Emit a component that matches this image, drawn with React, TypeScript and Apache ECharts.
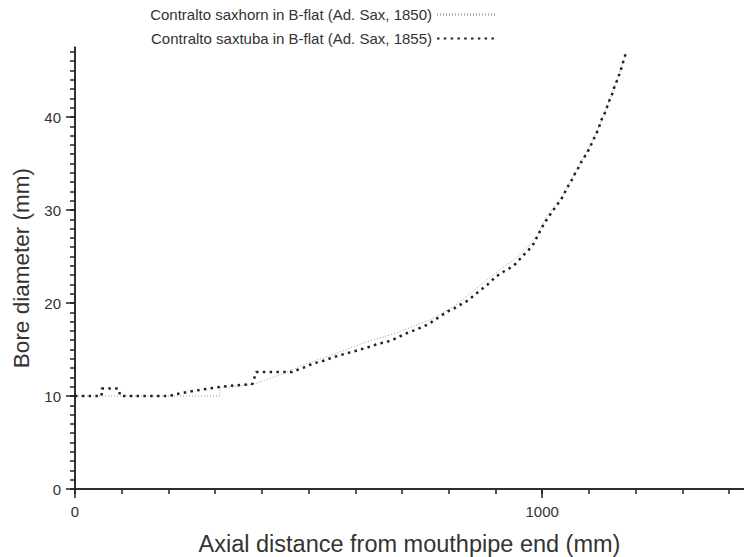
import React, { useEffect, useRef } from "react";
import * as echarts from "echarts";

const seriesNames = [
  "Contralto saxhorn in B-flat (Ad. Sax, 1850)",
  "Contralto saxtuba in B-flat (Ad. Sax, 1855)",
];

// [axial distance (mm), bore diameter (mm)]
const saxhornPoints: [number, number][] = [
  [0, 10], [310, 10], [311, 10.9], [340, 11.0], [385, 11.3], [440, 12.3], [496, 13.5],
  [560, 14.6], [617, 15.7], [689, 16.8], [760, 18.2], [803, 19.4], [824, 20.1],
  [867, 21.9], [910, 23.6], [946, 24.9], [974, 26.3], [992, 27.5], [1010, 29.4],
  [1024, 30.2], [1045, 31.6], [1069, 33.9], [1093, 36.0], [1115, 38.2], [1133, 40.4],
  [1150, 42.6], [1166, 44.8], [1180, 47.0],
];

const saxtubaPoints: [number, number][] = [
  [0, 10], [57, 10], [57, 10.8], [93, 10.8], [97, 10.0], [203, 10.0], [214, 10.18],
  [257, 10.57], [300, 10.9], [332, 11.1], [360, 11.2], [380, 11.3], [388, 12.58],
  [465, 12.58], [479, 12.87], [495, 13.15], [509, 13.5], [523, 13.65], [537, 13.87],
  [552, 14.16], [567, 14.37], [582, 14.6], [596, 14.77], [610, 15.0], [625, 15.2],
  [639, 15.45], [653, 15.67], [667, 15.8], [682, 16.1], [697, 16.45], [712, 16.8],
  [726, 17.05], [740, 17.35], [756, 17.7], [770, 18.17], [784, 18.65], [799, 19.12],
  [813, 19.46], [828, 19.9], [842, 20.3], [857, 20.95], [871, 21.5], [886, 22.1],
  [900, 22.8], [915, 23.3], [929, 23.7], [944, 24.25], [957, 25.0], [971, 25.7],
  [982, 26.4], [989, 27.1], [997, 27.9], [1005, 28.6], [1015, 29.35], [1025, 30.07],
  [1036, 30.83], [1045, 31.5], [1052, 32.3], [1061, 33.0], [1069, 33.8], [1076, 34.4],
  [1084, 35.2], [1093, 35.9], [1102, 36.7], [1108, 37.4], [1115, 38.1], [1121, 38.8],
  [1126, 39.6], [1133, 40.3], [1139, 41.1], [1144, 41.8], [1150, 42.5], [1155, 43.3],
  [1161, 44.0], [1166, 44.7], [1171, 45.5], [1175, 46.2], [1180, 47.0],
];

const xMinorTicks = [0, 100, 200, 300, 400, 500, 600, 700, 800, 900, 1000, 1100, 1200, 1300, 1400];
const xLabelTicks = [0, 1000];
const yMinorTicks = Array.from({ length: 48 }, (_, i) => i);
const yLabelTicks = [0, 10, 20, 30, 40];

const X_MIN = 0;
const X_MAX = 1432;
const Y_MIN = 0;
const Y_MAX = 47.5;

const FONT = "Liberation Sans, Arial, Helvetica, sans-serif";
const AXIS_COLOR = "#222";
const TEXT_COLOR = "#333";

export default function App() {
  const ref = useRef<HTMLDivElement>(null);

  useEffect(() => {
    if (!ref.current) return;
    const chart = echarts.init(ref.current, null, { renderer: "svg" });

    const baseAxis = {
      type: "value",
      splitLine: { show: false },
      axisLine: { show: true, lineStyle: { color: AXIS_COLOR, width: 1.5 } },
    };

    chart.setOption({
      animation: false,
      backgroundColor: "#fff",
      textStyle: { fontFamily: FONT },
      grid: {
        left: 75,
        right: 0,
        top: 47.25,
        bottom: 68,
        containLabel: false,
        outerBoundsMode: "none",
      },
      legend: {
        data: seriesNames,
        orient: "vertical",
        align: "right",
        right: 243,
        top: 2,
        itemWidth: 58,
        itemHeight: 14,
        itemGap: 9,
        itemStyle: { opacity: 0 },
        textStyle: { fontFamily: FONT, fontSize: 15, color: TEXT_COLOR },
      },
      xAxis: [
        {
          ...baseAxis,
          min: X_MIN,
          max: X_MAX,
          position: "bottom",
          axisTick: { show: true, customValues: xMinorTicks, length: 5, lineStyle: { color: AXIS_COLOR, width: 1.5 } },
          axisLabel: { show: false },
        },
        {
          ...baseAxis,
          min: X_MIN,
          max: X_MAX,
          position: "bottom",
          axisTick: { show: true, customValues: xLabelTicks, length: 9, lineStyle: { color: AXIS_COLOR, width: 1.5 } },
          axisLabel: {
            show: true,
            customValues: xLabelTicks,
            formatter: (v: number) => String(v),
            margin: 15,
            fontSize: 15,
            color: TEXT_COLOR,
            fontFamily: FONT,
          },
          name: "Axial distance from mouthpipe end (mm)",
          nameLocation: "middle",
          nameGap: 43,
          nameTextStyle: { fontSize: 23.5, color: TEXT_COLOR, fontFamily: FONT },
        },
      ],
      yAxis: [
        {
          ...baseAxis,
          min: Y_MIN,
          max: Y_MAX,
          position: "left",
          axisTick: { show: true, customValues: yMinorTicks, length: 5, lineStyle: { color: AXIS_COLOR, width: 1.5 } },
          axisLabel: { show: false },
        },
        {
          ...baseAxis,
          min: Y_MIN,
          max: Y_MAX,
          position: "left",
          axisTick: { show: true, customValues: yLabelTicks, length: 9, lineStyle: { color: AXIS_COLOR, width: 1.5 } },
          axisLabel: {
            show: true,
            customValues: yLabelTicks,
            formatter: (v: number) => String(v),
            margin: 14,
            fontSize: 15,
            color: TEXT_COLOR,
            fontFamily: FONT,
          },
          name: "Bore diameter (mm)",
          nameLocation: "middle",
          nameGap: 41,
          nameTextStyle: { fontSize: 22.5, color: TEXT_COLOR, fontFamily: FONT },
        },
      ],
      series: [
        {
          name: seriesNames[0],
          type: "line",
          data: saxhornPoints,
          symbol: "none",
          lineStyle: { color: "#999", width: 1, type: [1, 2] },
          itemStyle: { color: "#999" },
        },
        {
          name: seriesNames[1],
          type: "line",
          data: saxtubaPoints,
          symbol: "none",
          lineStyle: { color: "#222", width: 2.5, type: [2.5, 4.3] },
          itemStyle: { color: "#222" },
        },
      ],
    });

    return () => chart.dispose();
  }, []);

  return (
    <div
      ref={ref}
      style={{ position: "absolute", left: 0, top: 0, width: 744, height: 557 }}
    />
  );
}
